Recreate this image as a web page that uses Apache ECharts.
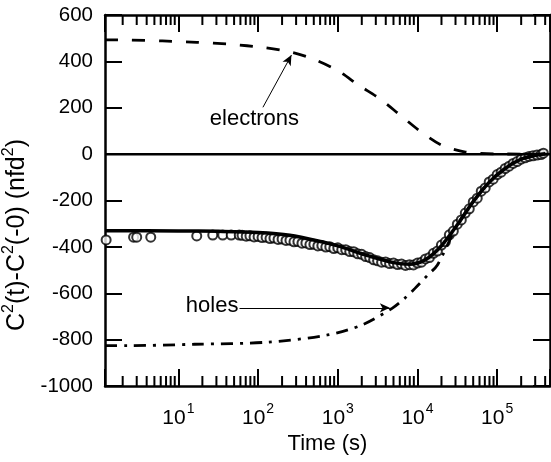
<!DOCTYPE html>
<html>
<head>
<meta charset="utf-8">
<script src="https://cdn.jsdelivr.net/npm/echarts@6/dist/echarts.min.js"></script>
<style>
  html, body { margin: 0; padding: 0; background: #fff; }
  #chart { width: 551px; height: 462px; }
</style>
</head>
<body>
<div id="chart"></div>
<script>
// x range (s) and y range
var tMin = 1.2, tMax = 460000;
var yMin = -1000, yMax = 600;
var xMajorExp = [1, 2, 3, 4, 5];

// dashed curve (electrons): [time, value]
var electrons = [
  [1.2, 493], [2.4, 492], [6.3, 488], [17, 482], [44, 474], [120, 459],
  [263, 439], [500, 409], [1000, 360], [1820, 298], [3390, 238],
  [6030, 169], [10700, 100], [20000, 39], [40000, 9], [100000, 1], [460000, 0]
];

// dash-dot curve (holes)
var holes = [
  [1.2, -826], [2.3, -826], [16, -820], [132, -811], [740, -780],
  [2000, -737], [4800, -665], [6900, -622], [9300, -579], [13500, -521],
  [17800, -478], [31600, -305], [50000, -205], [80000, -120],
  [126000, -62], [200000, -22], [320000, -4], [400000, 0]
];

// solid fit line
var fit = [
  [1.2, -330], [10, -331], [32, -333], [100, -338], [250, -350], [630, -378],
  [1000, -396], [2500, -440], [5000, -468], [8000, -475], [12600, -455],
  [20000, -395], [31600, -305], [50000, -205], [79000, -122], [126000, -62],
  [200000, -22], [316000, -4], [400000, 2]
];

// measured points (circles)
var measured = [
  [1.24, -370], [2.74, -358], [3.0, -358], [4.5, -358], [17, -353],
  [27, -349], [36, -349], [46, -349], [58, -349],
  [63, -350], [71, -354], [79, -352], [89, -357], [100, -355], [112, -360],
  [126, -358], [141, -364], [158, -362], [178, -368], [200, -366], [224, -372],
  [251, -371], [282, -378], [316, -377], [355, -384], [398, -383], [447, -390],
  [501, -389], [562, -396], [631, -394], [708, -401], [794, -399], [891, -407],
  [1000, -404], [1122, -412], [1259, -412], [1413, -420], [1585, -421],
  [1778, -430], [1995, -432], [2239, -442], [2512, -446], [2818, -456],
  [3162, -460], [3548, -466], [3981, -465], [4467, -472], [5012, -470],
  [5623, -476], [6310, -474], [7079, -480], [7943, -477], [8913, -478],
  [10000, -470], [11220, -466], [12590, -452], [14130, -446], [15850, -428],
  [17780, -418], [19950, -392], [22390, -378], [25120, -348], [28180, -332],
  [31620, -302], [35480, -284], [39810, -254], [44670, -236], [50120, -206],
  [56230, -190], [63100, -160], [70790, -146], [79430, -120], [89130, -108],
  [100000, -88], [112200, -78], [125900, -62], [141300, -52], [158500, -40],
  [177800, -32], [199500, -22], [223900, -16], [251200, -10], [281800, -7],
  [316200, -4], [354800, -2], [380000, 4]
];

// annotations: [time, value]
var electronsText = [90, 150];
var electronsArrow = [[115, 202], [262, 427]];
var holesText = [26.5, -655];
var holesArrow = [[58.5, -663], [4500, -663]];

// minor ticks of log axis
var minorTicks = [];
for (var e = 0; e <= 5; e++) {
  for (var m = 2; m <= 9; m++) {
    var v = m * Math.pow(10, e);
    if (v > tMin && v < tMax) minorTicks.push([v, 0]);
  }
}

var font = '"Liberation Sans", Arial, Helvetica, sans-serif';

var myChart = echarts.init(document.getElementById('chart'), null, { renderer: 'canvas' });
myChart.setOption({
  animation: false,
  backgroundColor: '#fff',
  grid: { left: 105, right: 1, top: 15, bottom: 76, outerBoundsMode: 'none', containLabel: false },
  xAxis: [
    {
      type: 'log',
      min: tMin,
      max: tMax,
      name: 'Time (s)',
      nameLocation: 'middle',
      nameGap: 46,
      nameTextStyle: { fontFamily: font, fontSize: 22, color: '#000' },
      axisLine: { onZero: false, lineStyle: { color: '#000', width: 2.5 } },
      axisTick: { inside: true, length: 17, lineStyle: { color: '#000', width: 2 } },
      splitLine: { show: false },
      minorTick: { show: false },
      axisLabel: {
        margin: 16,
        color: '#000',
        formatter: function (val) {
          var p = Math.round(Math.log10(val));
          if (Math.abs(Math.log10(val) - p) < 1e-6 && xMajorExp.indexOf(p) >= 0) {
            return '{b|10}{s|' + p + '}';
          }
          return '';
        },
        rich: {
          b: { fontFamily: font, fontSize: 21, color: '#000' },
          s: { fontFamily: font, fontSize: 14, color: '#000', padding: [0, 0, 18, 1] }
        }
      }
    },
    {
      type: 'log',
      position: 'top',
      min: tMin,
      max: tMax,
      axisLine: { onZero: false, lineStyle: { color: '#000', width: 2.5 } },
      axisTick: { inside: true, length: 17, lineStyle: { color: '#000', width: 2 } },
      axisLabel: { show: false },
      splitLine: { show: false }
    }
  ],
  yAxis: [
    {
      type: 'value',
      min: yMin,
      max: yMax,
      interval: 200,
      axisLine: { show: true, onZero: false, lineStyle: { color: '#000', width: 2.5 } },
      axisTick: { show: true, inside: true, length: 17, lineStyle: { color: '#000', width: 2 } },
      axisLabel: {
        margin: 12, color: '#000', fontFamily: font, fontSize: 20.5,
        formatter: function (val) { return String(val); }
      },
      splitLine: { show: false }
    },
    {
      type: 'value',
      position: 'right',
      min: yMin,
      max: yMax,
      interval: 200,
      axisLine: { show: true, onZero: false, lineStyle: { color: '#000', width: 2.5 } },
      axisTick: { show: true, inside: true, length: 17, lineStyle: { color: '#000', width: 2 } },
      axisLabel: { show: false },
      splitLine: { show: false }
    }
  ],
  graphic: [
    {
      type: 'text',
      x: 17,
      y: 235,
      rotation: Math.PI / 2,
      style: {
        text: '{n|C}{s|2}{n|(t)-C}{s|2}{n|(-0) (nfd}{s|2}{n|)}',
        rich: {
          n: { fontFamily: font, fontSize: 25, fill: '#000' },
          s: { fontFamily: font, fontSize: 16, fill: '#000', padding: [0, 0, 17, 0] }
        },
        fill: '#000',
        align: 'center',
        verticalAlign: 'middle'
      }
    }
  ],
  series: [
    {
      name: 'zero',
      type: 'line',
      data: [[tMin, 0], [tMax, 0]],
      symbol: 'none',
      lineStyle: { color: '#000', width: 2.5 },
      silent: true
    },
    {
      name: 'electrons',
      type: 'line',
      data: electrons,
      smooth: 0.3,
      symbol: 'none',
      lineStyle: { color: '#000', width: 2.8, type: [13, 14] },
      silent: true,
      markLine: {
        silent: true,
        symbol: ['none', 'arrow'],
        symbolSize: [7, 10],
        lineStyle: { color: '#000', width: 1, type: 'solid' },
        label: { show: false },
        data: [[{ coord: electronsArrow[0] }, { coord: electronsArrow[1] }]]
      },
      markPoint: {
        silent: true,
        symbol: 'circle',
        symbolSize: 0,
        label: { show: true, position: 'inside', formatter: 'electrons', fontFamily: font, fontSize: 22, color: '#000' },
        data: [{ coord: electronsText }]
      }
    },
    {
      name: 'holes',
      type: 'line',
      data: holes,
      smooth: 0.3,
      symbol: 'none',
      lineStyle: { color: '#000', width: 2.8, type: [12, 7, 3, 7] },
      silent: true,
      markLine: {
        silent: true,
        symbol: ['none', 'arrow'],
        symbolSize: [7, 10],
        lineStyle: { color: '#000', width: 1, type: 'solid' },
        label: { show: false },
        data: [[{ coord: holesArrow[0] }, { coord: holesArrow[1] }]]
      },
      markPoint: {
        silent: true,
        symbol: 'circle',
        symbolSize: 0,
        label: { show: true, position: 'inside', formatter: 'holes', fontFamily: font, fontSize: 22, color: '#000' },
        data: [{ coord: holesText }]
      }
    },
    {
      name: 'fit',
      type: 'line',
      data: fit,
      smooth: 0.3,
      symbol: 'none',
      lineStyle: { color: '#000', width: 3.5 },
      silent: true
    },
    {
      name: 'measured',
      type: 'scatter',
      data: measured,
      symbol: 'emptyCircle',
      symbolSize: 9,
      itemStyle: { color: '#000', borderColor: '#000', borderWidth: 2 },
      silent: true
    },
    {
      name: 'minorTicks',
      type: 'custom',
      data: minorTicks,
      silent: true,
      clip: false,
      renderItem: function (params, api) {
        var v = api.value(0);
        var b = api.coord([v, yMin]);
        var t = api.coord([v, yMax]);
        return {
          type: 'group',
          children: [
            { type: 'line', shape: { x1: b[0], y1: b[1], x2: b[0], y2: b[1] - 10 }, style: { stroke: '#000', lineWidth: 2 } },
            { type: 'line', shape: { x1: t[0], y1: t[1], x2: t[0], y2: t[1] + 10 }, style: { stroke: '#000', lineWidth: 2 } }
          ]
        };
      }
    }
  ]
});
</script>
</body>
</html>
